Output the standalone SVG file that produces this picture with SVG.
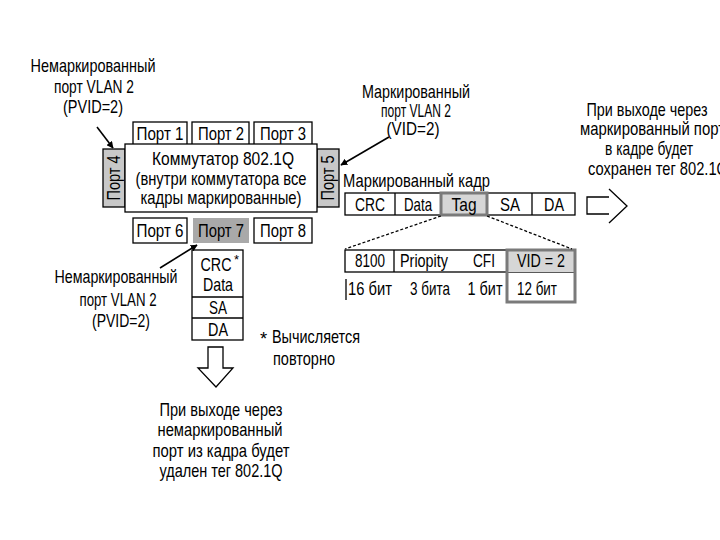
<svg xmlns="http://www.w3.org/2000/svg" width="720" height="540" viewBox="0 0 720 540">
<defs>
<marker id="ah" viewBox="0 0 10 10" refX="9" refY="5" markerWidth="7" markerHeight="7" orient="auto" markerUnits="userSpaceOnUse">
<path d="M0,0 L10,5 L0,10 Z" fill="#000"/>
</marker>
<style>
text{font-family:"Liberation Sans Narrow","Liberation Sans",Arial,sans-serif;font-size:18.5px;fill:#000}
.p{font-size:17.5px}
.m{text-anchor:middle}
.s{font-size:13px}
.box{fill:#fff;stroke:#000;stroke-width:1.3}
.g1{fill:#c8c8c8;stroke:#000;stroke-width:1.3}
.g2{fill:#a9a9a9;stroke:none}
.tag{fill:#d6d6d6;stroke:#7a7a7a;stroke-width:3}
.ln{fill:none;stroke:#000;stroke-width:1.3}
.arr{fill:none;stroke:#000;stroke-width:1.6;marker-end:url(#ah)}
.dash{fill:none;stroke:#000;stroke-width:1.3;stroke-dasharray:3,2}
</style>
</defs>
<rect width="720" height="540" fill="#fff"/>

<g id="label-untagged-top">
<text class="m" x="93" y="72" textLength="125" lengthAdjust="spacingAndGlyphs">Немаркированный</text>
<text class="m" x="94" y="93" textLength="80" lengthAdjust="spacingAndGlyphs">порт VLAN 2</text>
<text class="m" x="93" y="113" textLength="60" lengthAdjust="spacingAndGlyphs">(PVID=2)</text>
</g>

<g id="label-tagged">
<text class="m" x="416" y="98" textLength="108" lengthAdjust="spacingAndGlyphs">Маркированный</text>
<text class="m" x="416" y="117" textLength="70" lengthAdjust="spacingAndGlyphs">порт VLAN 2</text>
<text class="m" x="413" y="135" textLength="53" lengthAdjust="spacingAndGlyphs">(VID=2)</text>
</g>

<g id="note-tagged-exit">
<text class="m" x="647" y="116" textLength="121" lengthAdjust="spacingAndGlyphs">При выходе через</text>
<text x="580" y="135" textLength="145" lengthAdjust="spacingAndGlyphs">маркированный порт</text>
<text class="m" x="649" y="155" textLength="88" lengthAdjust="spacingAndGlyphs">в кадре будет</text>
<text x="588" y="175" textLength="140" lengthAdjust="spacingAndGlyphs">сохранен тег 802.1Q</text>
</g>

<g id="port1"><rect class="box" x="133" y="122" width="54" height="23"/><text class="p m" x="160" y="140" textLength="47" lengthAdjust="spacingAndGlyphs">Порт 1</text></g>
<g id="port2"><rect class="box" x="192" y="122" width="57" height="23"/><text class="p m" x="221" y="140" textLength="46" lengthAdjust="spacingAndGlyphs">Порт 2</text></g>
<g id="port3"><rect class="box" x="254" y="122" width="58" height="23"/><text class="p m" x="283" y="140" textLength="46" lengthAdjust="spacingAndGlyphs">Порт 3</text></g>
<g id="port4"><rect class="g1" x="103" y="149" width="22" height="58"/><text class="p m" transform="translate(114,178) rotate(-90)" x="0" y="6" textLength="45" lengthAdjust="spacingAndGlyphs">Порт 4</text></g>
<g id="port5"><rect class="g1" x="317" y="149" width="22" height="58"/><text class="p m" transform="translate(328,178) rotate(-90)" x="0" y="6" textLength="45" lengthAdjust="spacingAndGlyphs">Порт 5</text></g>
<g id="port6"><rect class="box" x="133" y="218" width="54" height="25"/><text class="p m" x="160" y="237" textLength="47" lengthAdjust="spacingAndGlyphs">Порт 6</text></g>
<g id="port7"><rect class="g2" x="193" y="218" width="56" height="25"/><text class="p m" x="221" y="237" textLength="46" lengthAdjust="spacingAndGlyphs">Порт 7</text></g>
<g id="port8"><rect class="box" x="254" y="218" width="58" height="25"/><text class="p m" x="283" y="237" textLength="46" lengthAdjust="spacingAndGlyphs">Порт 8</text></g>

<g id="switch">
<rect class="box" x="125" y="144" width="192" height="68"/>
<text class="m" x="223" y="165" textLength="142" lengthAdjust="spacingAndGlyphs">Коммутатор 802.1Q</text>
<text class="m" x="221" y="185" textLength="171" lengthAdjust="spacingAndGlyphs">(внутри коммутатора все</text>
<text class="m" x="221" y="204" textLength="161" lengthAdjust="spacingAndGlyphs">кадры маркированные)</text>
</g>

<g id="tagged-frame">
<text x="343" y="187" textLength="147" lengthAdjust="spacingAndGlyphs">Маркированный кадр</text>
<rect class="box" x="345" y="193" width="230" height="22"/>
<line class="ln" x1="395" y1="193" x2="395" y2="215"/>
<line class="ln" x1="532" y1="193" x2="532" y2="215"/>
<rect class="tag" x="441" y="193" width="46" height="22"/>
<text class="m" x="370" y="211" textLength="30" lengthAdjust="spacingAndGlyphs">CRC</text>
<text class="m" x="418" y="211" textLength="28" lengthAdjust="spacingAndGlyphs">Data</text>
<text class="m" x="464" y="211" textLength="25" lengthAdjust="spacingAndGlyphs">Tag</text>
<text class="m" x="510" y="211" textLength="20" lengthAdjust="spacingAndGlyphs">SA</text>
<text class="m" x="554" y="211" textLength="20" lengthAdjust="spacingAndGlyphs">DA</text>
</g>

<g id="tag-detail">
<rect class="box" x="345" y="250" width="230" height="22"/>
<line class="ln" x1="394" y1="250" x2="394" y2="272"/>
<line class="ln" x1="346" y1="279" x2="346" y2="300"/>
<rect fill="#d6d6d6" x="507" y="250" width="68" height="22"/>
<rect fill="none" stroke="#7a7a7a" stroke-width="3" x="507" y="250" width="68" height="52"/>
<text class="m" x="370" y="267" textLength="30" lengthAdjust="spacingAndGlyphs">8100</text>
<text class="m" x="424" y="267" textLength="48" lengthAdjust="spacingAndGlyphs">Priopity</text>
<text class="m" x="484" y="267" textLength="22" lengthAdjust="spacingAndGlyphs">CFI</text>
<text class="m" x="541" y="267" textLength="48" lengthAdjust="spacingAndGlyphs">VID = 2</text>
<text class="m" x="370" y="295" textLength="44" lengthAdjust="spacingAndGlyphs">16 бит</text>
<text class="m" x="430" y="295" textLength="40" lengthAdjust="spacingAndGlyphs">3 бита</text>
<text class="m" x="485" y="295" textLength="35" lengthAdjust="spacingAndGlyphs">1 бит</text>
<text class="m" x="537" y="295" textLength="40" lengthAdjust="spacingAndGlyphs">12 бит</text>
</g>

<g id="label-untagged-bottom">
<text class="m" x="116" y="283" textLength="123" lengthAdjust="spacingAndGlyphs">Немаркированный</text>
<text class="m" x="118" y="306" textLength="77" lengthAdjust="spacingAndGlyphs">порт VLAN 2</text>
<text class="m" x="121" y="327" textLength="58" lengthAdjust="spacingAndGlyphs">(PVID=2)</text>
</g>

<g id="untagged-frame">
<rect class="box" x="192" y="250" width="51" height="90"/>
<line class="ln" x1="192" y1="297" x2="243" y2="297"/>
<line class="ln" x1="192" y1="318" x2="243" y2="318"/>
<text class="m" x="216" y="271" textLength="31" lengthAdjust="spacingAndGlyphs">CRC</text>
<text class="s" x="234" y="264">*</text>
<text class="m" x="218" y="291" textLength="30" lengthAdjust="spacingAndGlyphs">Data</text>
<text class="m" x="218" y="314" textLength="18" lengthAdjust="spacingAndGlyphs">SA</text>
<text class="m" x="218" y="336" textLength="20" lengthAdjust="spacingAndGlyphs">DA</text>
</g>

<g id="note-recalc">
<text x="260" y="345">*</text>
<text x="272" y="343" textLength="88" lengthAdjust="spacingAndGlyphs">Вычисляется</text>
<text x="273" y="365" textLength="62" lengthAdjust="spacingAndGlyphs">повторно</text>
</g>

<g id="note-untagged-exit">
<text class="m" x="221" y="416" textLength="123" lengthAdjust="spacingAndGlyphs">При выходе через</text>
<text class="m" x="220" y="436" textLength="125" lengthAdjust="spacingAndGlyphs">немаркированный</text>
<text class="m" x="221" y="457" textLength="137" lengthAdjust="spacingAndGlyphs">порт из кадра будет</text>
<text class="m" x="221" y="477" textLength="123" lengthAdjust="spacingAndGlyphs">удален тег 802.1Q</text>
</g>

<g id="connectors">
<line class="arr" x1="97" y1="127" x2="113" y2="148"/>
<line class="arr" x1="389" y1="137" x2="341" y2="165"/>
<line class="arr" x1="160" y1="268" x2="197" y2="245"/>
<line class="dash" x1="441" y1="216" x2="345" y2="249"/>
<line class="dash" x1="487" y1="216" x2="572" y2="249"/>
<path class="ln" d="M208,347 L223,347 L223,368 L233,368 L216,387 L198,368 L208,368 Z" fill="#fff"/>
<path class="ln" d="M609,197 L587,197 L587,214 L609,214 M609,189 L627,206 L609,223"/>
</g>
</svg>
